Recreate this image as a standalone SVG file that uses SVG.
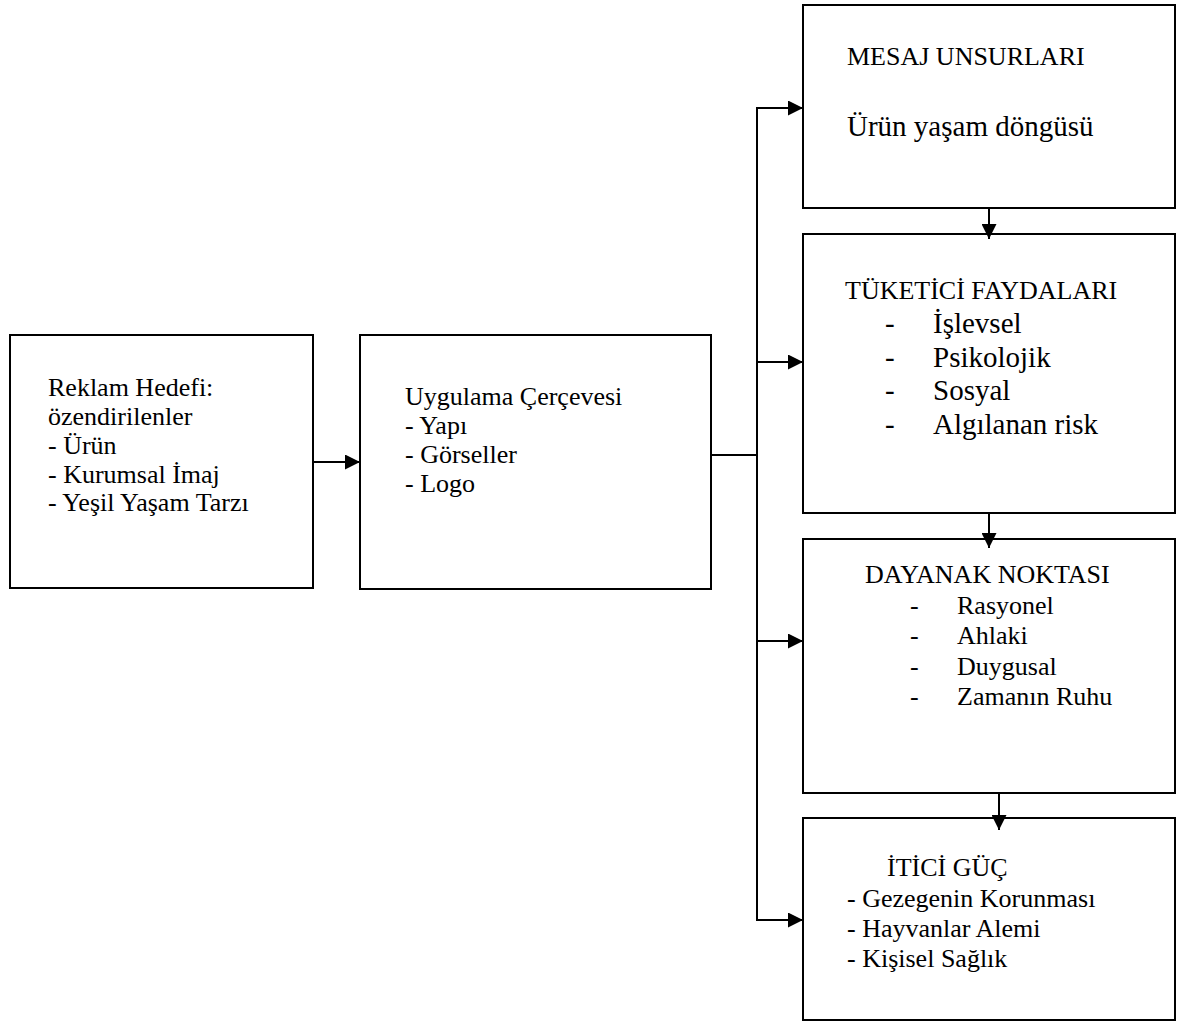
<svg xmlns="http://www.w3.org/2000/svg" width="1177" height="1023" viewBox="0 0 1177 1023">
<style>
.box{fill:#fff;stroke:#000;stroke-width:2}
.t{font-family:"Liberation Serif","Times New Roman",serif;font-size:26px;fill:#000}
.b{font-size:29px}
.c{fill:none;stroke:#000;stroke-width:2}
</style>
<defs>
<marker id="ah" viewBox="0 0 15 15" refX="15" refY="7.5" markerWidth="15" markerHeight="15" markerUnits="userSpaceOnUse" orient="auto">
<path d="M0,0 L15,7.5 L0,15 Z" fill="#000"/>
</marker>
</defs>
<rect width="1177" height="1023" fill="#fff"/>
<g id="connectors">
<line class="c" x1="313" y1="462" x2="360" y2="462" marker-end="url(#ah)"/>
<line class="c" x1="711" y1="455" x2="757" y2="455"/>
<line class="c" x1="757" y1="107" x2="757" y2="921"/>
<line class="c" x1="756" y1="108" x2="803" y2="108" marker-end="url(#ah)"/>
<line class="c" x1="756" y1="362" x2="803" y2="362" marker-end="url(#ah)"/>
<line class="c" x1="756" y1="641" x2="803" y2="641" marker-end="url(#ah)"/>
<line class="c" x1="756" y1="920" x2="803" y2="920" marker-end="url(#ah)"/>
</g>
<g id="n1"><rect class="box" x="10" y="335" width="303" height="253"/>
<text class="t" x="48" y="396">Reklam Hedefi:</text>
<text class="t" x="48" y="425">özendirilenler</text>
<text class="t" x="48" y="454">- Ürün</text>
<text class="t" x="48" y="483">- Kurumsal İmaj</text>
<text class="t" x="48" y="511">- Yeşil Yaşam Tarzı</text>
</g>
<g id="n2"><rect class="box" x="360" y="335" width="351" height="254"/>
<text class="t" x="405" y="405">Uygulama Çerçevesi</text>
<text class="t" x="405" y="434">- Yapı</text>
<text class="t" x="405" y="463">- Görseller</text>
<text class="t" x="405" y="492">- Logo</text>
</g>
<g id="n3"><rect class="box" x="803" y="5" width="372" height="203"/>
<text class="t" x="847" y="65">MESAJ UNSURLARI</text>
<text class="t b" x="847" y="136">Ürün yaşam döngüsü</text>
</g>
<g id="n4"><rect class="box" x="803" y="234" width="372" height="279"/>
<text class="t" x="845" y="299">TÜKETİCİ FAYDALARI</text>
<text class="t b" x="885" y="333">-</text><text class="t b" x="933" y="333">İşlevsel</text>
<text class="t b" x="885" y="367">-</text><text class="t b" x="933" y="367">Psikolojik</text>
<text class="t b" x="885" y="400">-</text><text class="t b" x="933" y="400">Sosyal</text>
<text class="t b" x="885" y="434">-</text><text class="t b" x="933" y="434">Algılanan risk</text>
</g>
<g id="n5"><rect class="box" x="803" y="539" width="372" height="254"/>
<text class="t" x="865" y="583">DAYANAK NOKTASI</text>
<text class="t" x="910" y="614">-</text><text class="t" x="957" y="614">Rasyonel</text>
<text class="t" x="910" y="644">-</text><text class="t" x="957" y="644">Ahlaki</text>
<text class="t" x="910" y="675">-</text><text class="t" x="957" y="675">Duygusal</text>
<text class="t" x="910" y="705">-</text><text class="t" x="957" y="705">Zamanın Ruhu</text>
</g>
<g id="n6"><rect class="box" x="803" y="818" width="372" height="202"/>
<text class="t" x="887" y="876">İTİCİ GÜÇ</text>
<text class="t" x="847" y="907">- Gezegenin Korunması</text>
<text class="t" x="847" y="937">- Hayvanlar Alemi</text>
<text class="t" x="847" y="967">- Kişisel Sağlık</text>
</g>
<g id="connectors-down">
<line class="c" x1="989" y1="208" x2="989" y2="239" marker-end="url(#ah)"/>
<line class="c" x1="989" y1="513" x2="989" y2="548" marker-end="url(#ah)"/>
<line class="c" x1="999" y1="793" x2="999" y2="830" marker-end="url(#ah)"/>
</g>
</svg>
